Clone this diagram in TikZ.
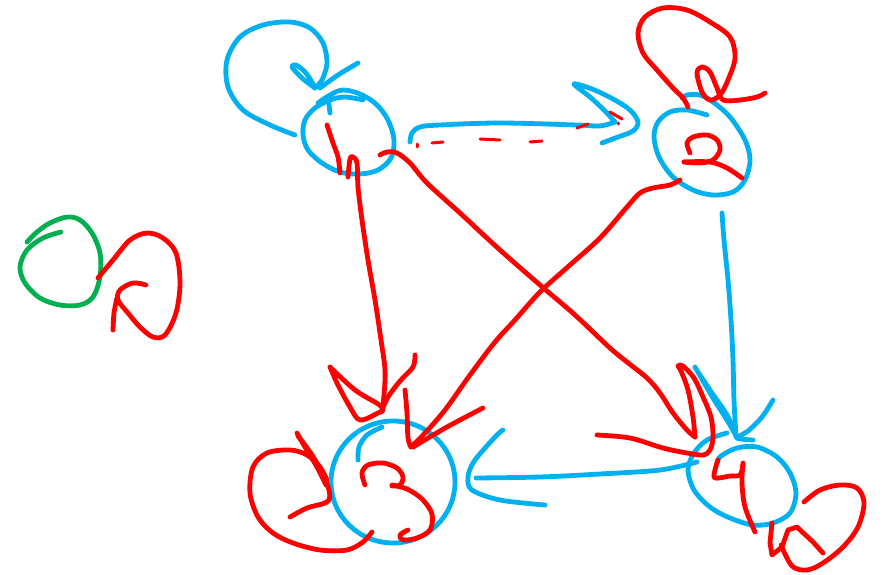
\documentclass[tikz,border=0pt]{standalone}
\definecolor{skblue}{RGB}{0,176,240}
\definecolor{skred}{RGB}{255,0,0}
\definecolor{skgreen}{RGB}{0,176,80}
\tikzset{
  pen/.style={line width=4.8pt, line cap=round, line join=round},
  bluepen/.style={pen, draw=skblue},
  redpen/.style={pen, draw=skred},
  greenpen/.style={pen, draw=skgreen},
  sk/.style={smooth, tension=0.55}
}
\begin{document}
\begin{tikzpicture}[x=1pt,y=-1pt]
\useasboundingbox (0,0) rectangle (884,575);
% node centres
\coordinate (n1) at (349,129);
\coordinate (n2) at (703,145);
\coordinate (n3) at (393,482);
\coordinate (n4) at (742,482);

% ---------- node 1 ----------
\draw[bluepen] plot[sk] coordinates {(363,100) (345,97) (330,100) (315,108) (305,120) (303,135) (308,150) (322,163) (340,172) (360,174) (378,170) (391,158) (394,140) (388,120) (376,104) (360,94) (343,90) (330,95) (318,103)};
\draw[bluepen] (328,97) -- (330,113);
% self loop 1
\draw[bluepen] plot[sk] coordinates {(295,135) (270,125) (243,110) (228,87) (227,60) (240,37) (263,25) (290,22) (310,28) (323,43) (327,63) (322,80) (315,88)};
\draw[bluepen] plot[sk] coordinates {(315,88) (302,78) (292,67) (296,65) (305,72) (312,82) (315,88)};
\draw[bluepen] plot[sk] coordinates {(358,63) (338,75) (320,88)};

% ---------- node 2 ----------
\draw[bluepen] plot[sk] coordinates {(682,98) (687,95) (700,95) (713,102) (730,117) (745,140) (750,160) (745,180) (733,192) (713,195) (693,190) (673,177) (659,157) (654,137) (658,122) (670,112) (687,110) (707,115)};
\draw[redpen] plot[sk] coordinates {(690,153) (687,143) (693,137) (707,135) (717,140) (720,150) (713,160) (700,163) (684,162)};
\draw[redpen] plot[sk] coordinates {(684,162) (710,162) (727,168) (742,178)};
% self loop 2
\draw[redpen] plot[sk] coordinates {(688,107) (683,98) (673,88) (657,70) (643,53) (638,33) (645,17) (663,8) (687,10) (710,22) (730,37) (735,58) (728,80) (720,95) (710,100) (702,92) (697,73) (702,67) (710,72) (717,88) (723,100) (740,100) (757,97) (765,93)};

% ---------- node 3 ----------
\draw[bluepen] (n3) circle[x radius=62pt, y radius=61pt];
\draw[bluepen] plot[sk] coordinates {(358,460) (359,447) (367,435) (382,427)};
\draw[redpen] plot[sk] coordinates {(365,485) (362,473) (368,465) (383,463) (397,468) (403,477) (400,485) (392,486)};
\draw[redpen] plot[sk] coordinates {(392,485) (407,489) (422,499) (432,514) (430,530) (417,538) (403,540) (400,535) (408,530)};
% self loop 3
\draw[redpen] plot[sk] coordinates {(372,532) (363,542) (347,550) (320,550) (293,543) (273,533) (258,517) (250,493) (253,467) (267,453) (290,450) (307,455) (320,467) (327,480)};
\draw[redpen] plot[sk] coordinates {(298,436) (312,455) (323,475) (329,490) (329,500) (322,504) (307,508) (290,517)};
\draw[redpen] plot[sk] coordinates {(297,433) (305,447) (317,467) (326,485)};

% ---------- node 4 ----------
\draw[bluepen] plot[sk] coordinates {(717,462) (721,456) (737,448) (757,447) (777,457) (790,473) (796,493) (790,513) (773,523) (753,525) (730,518) (710,507) (694,490) (688,470) (694,453) (707,440) (727,433)};
\draw[redpen] plot[sk] coordinates {(718,460) (715,470) (715,478) (730,476) (740,475) (743,465)};
\draw[redpen] plot[sk] coordinates {(743,463) (742,483) (745,507) (755,532)};
% self loop 4
\draw[redpen] plot[sharp plot] coordinates {(772,523) (770,543) (772,555) (782,547) (788,530) (797,527) (813,542) (823,553)};
\draw[redpen] plot[sk] coordinates {(781,545) (792,566) (807,570) (823,563) (843,547) (858,527) (864,503) (857,488) (840,485) (820,490) (804,502)};

% ---------- isolated green node + red loop ----------
\draw[greenpen] plot[sk] coordinates {(27,242) (37,232) (50,223) (67,217) (80,220) (92,233) (100,253) (100,277) (93,297) (80,305) (60,305) (40,298) (25,283) (20,267) (27,250) (43,238) (61,232)};
\draw[redpen] plot[sk] coordinates {(98,278) (113,260) (130,240) (147,233) (163,238) (176,253) (180,283) (176,313) (165,335) (153,337) (140,327) (128,313) (118,300) (120,290) (133,283) (146,285)};
\draw[redpen] plot[sk] coordinates {(117,298) (114,313) (113,330)};

% ---------- edge 1 -> 2 (blue) with red dashes ----------
\draw[bluepen] plot[sk] coordinates {(410,142) (412,133) (420,127) (440,125) (500,123) (577,125) (600,126) (615,122)};
\draw[bluepen] plot[sk] coordinates {(615,122) (604,110) (590,97) (574,84) (592,89) (613,99) (630,110) (638,122) (633,131) (618,137) (602,143)};
\draw[redpen, line width=3pt] (417,144) -- (417,147);
\draw[redpen, line width=3pt] (432,143) -- (443,142);
\draw[redpen, line width=3pt] (480,139) -- (500,140);
\draw[redpen, line width=3pt] (530,142) -- (542,141);
\draw[redpen, line width=3pt] (577,128) -- (588,124);
\draw[redpen, line width=3pt] (610,112) -- (622,119);
\draw[redpen, line width=3pt] (618,123) -- (618,124);

% ---------- edge 1 -> 3 (red) ----------
\draw[redpen] plot[sk] coordinates {(327,125) (333,143) (338,157) (340,173)};
\draw[redpen] plot[sk] coordinates {(348,177) (350,159) (353,157) (357,163) (358,187) (362,220) (368,260) (375,300) (381,340) (385,370) (384,395) (382,411)};
\draw[redpen] plot[sk] coordinates {(330,367) (355,390) (378,404) (383,410) (378,413) (360,420) (350,407) (338,385) (330,367)};
\draw[redpen] plot[sk] coordinates {(415,355) (413,367) (400,381) (388,397) (382,410)};

% ---------- edge 1 -> 4 (red) ----------
\draw[redpen] plot[sk] coordinates {(380,155) (387,152) (397,153) (410,163) (427,183) (460,213) (500,250) (540,285) (575,315) (610,348) (627,362) (647,378) (660,393) (673,413) (687,430) (695,437)};
\draw[redpen] plot[sk] coordinates {(695,437) (693,417) (688,390) (681,371) (678,366) (683,366) (694,378) (703,397) (711,417) (713,437) (710,450) (703,455) (687,453) (663,448) (630,438) (597,435)};

% ---------- edge 2 -> 3 (red) ----------
\draw[redpen] plot[sk] coordinates {(680,180) (670,185) (653,188) (640,193) (627,207) (600,238) (570,265) (540,292) (515,320) (495,342) (470,375) (445,410) (425,433) (411,447)};
\draw[redpen] plot[sk] coordinates {(405,390) (407,413) (408,438) (411,447)};
\draw[redpen] plot[sk] coordinates {(413,447) (447,427) (483,408)};

% ---------- edge 2 -> 4 (blue) ----------
\draw[bluepen] plot[sk] coordinates {(722,213) (724,240) (728,280) (731,320) (733,360) (734,400) (736,437)};
\draw[bluepen] plot[sk] coordinates {(695,367) (713,398) (727,420) (737,437) (727,415) (712,393) (698,372)};
\draw[bluepen] plot[sk] coordinates {(773,400) (762,417) (748,431) (737,438) (753,440)};

% ---------- edge 4 -> 3 (blue) ----------
\draw[bluepen] plot[sk] coordinates {(697,462) (660,470) (600,474) (540,477) (476,478)};
\draw[bluepen] plot[sk] coordinates {(503,430) (498,434) (485,448) (473,463) (468,477) (472,490) (500,500) (545,505)};
\end{tikzpicture}
\end{document}
